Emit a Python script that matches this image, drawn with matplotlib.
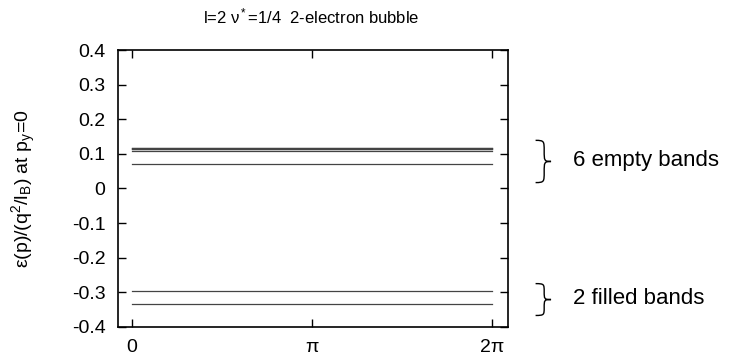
import numpy as np
import matplotlib.pyplot as plt
from matplotlib.path import Path
from matplotlib.patches import PathPatch
import matplotlib.transforms as mtransforms

plt.rcParams['font.family'] = ['Liberation Sans', 'DejaVu Sans']
plt.rcParams['mathtext.fontset'] = 'custom'
plt.rcParams['mathtext.rm'] = 'Liberation Sans'
plt.rcParams['mathtext.it'] = 'Liberation Sans:italic'

# band energies at p_y = 0 (flat across p_x)
empty_bands = [0.117, 0.116, 0.114, 0.113, 0.107, 0.070]
filled_bands = [-0.295, -0.335]
px_ticks = [0, np.pi, 2 * np.pi]
px_labels = ['0', '\u03c0', '2\u03c0']
y_ticks = [0.4, 0.3, 0.2, 0.1, 0, -0.1, -0.2, -0.3, -0.4]


def draw_brace(ax, x, y0, y1, width=0.022):
    # curly brace in (axes fraction x, data y), opening to the left
    trans = mtransforms.blended_transform_factory(ax.transAxes, ax.transData)
    ym = (y0 + y1) / 2
    h = (y1 - y0)
    w = width
    verts = [
        (x, y1),
        (x + w, y1), (x + w, y1 - 0.02 * h), (x + w, y1 - 0.25 * h),
        (x + w, ym + 0.02 * h), (x + w, ym), (x + 1.8 * w, ym),
        (x + w, ym), (x + w, ym - 0.02 * h), (x + w, y0 + 0.25 * h),
        (x + w, y0 + 0.02 * h), (x + w, y0), (x, y0),
    ]
    codes = [Path.MOVETO] + [Path.CURVE4] * 12
    patch = PathPatch(Path(verts, codes), transform=trans, fill=False,
                      lw=1.0, color='black', clip_on=False)
    ax.add_patch(patch)


fig = plt.figure(figsize=(7.42, 3.6), dpi=100)
ax = fig.add_axes([0.159, 0.092, 0.526, 0.769])

px = np.linspace(0, 2 * np.pi, 50)
for e in empty_bands:
    ax.plot(px, np.full_like(px, e), color='#444444', lw=0.9)
for e in filled_bands:
    ax.plot(px, np.full_like(px, e), color='#444444', lw=0.9)

ax.set_xlim(-0.245, 2 * np.pi + 0.28)
ax.set_ylim(-0.4, 0.4)
ax.set_xticks(px_ticks)
ax.set_xticklabels(px_labels)
ax.set_yticks(y_ticks)
ax.set_yticklabels([f'{t:g}' for t in y_ticks])
ax.tick_params(direction='in', top=True, right=True, length=6, width=1,
               labelsize=14, pad=9)
for s in ax.spines.values():
    s.set_linewidth(1.2)

ax.set_ylabel('\u03b5(p)/(q$^2$/l$_\\mathrm{B}$) at p$_\\mathrm{y}$=0',
              fontsize=14)
ax.yaxis.set_label_coords(-0.205, 0.5)
fig.text(0.42, 0.955, 'l=2 \u03bd$^*$=1/4  2-electron bubble',
         fontsize=12, ha='center', va='center')

blend = mtransforms.blended_transform_factory(ax.transAxes, ax.transData)
draw_brace(ax, 1.07, 0.017, 0.139)
draw_brace(ax, 1.07, -0.367, -0.275)
ax.text(1.165, 0.08, '6 empty bands', transform=blend,
        fontsize=16, va='center', ha='left')
ax.text(1.165, -0.318, '2 filled bands', transform=blend,
        fontsize=16, va='center', ha='left')

fig.savefig('out.png', dpi=100)
